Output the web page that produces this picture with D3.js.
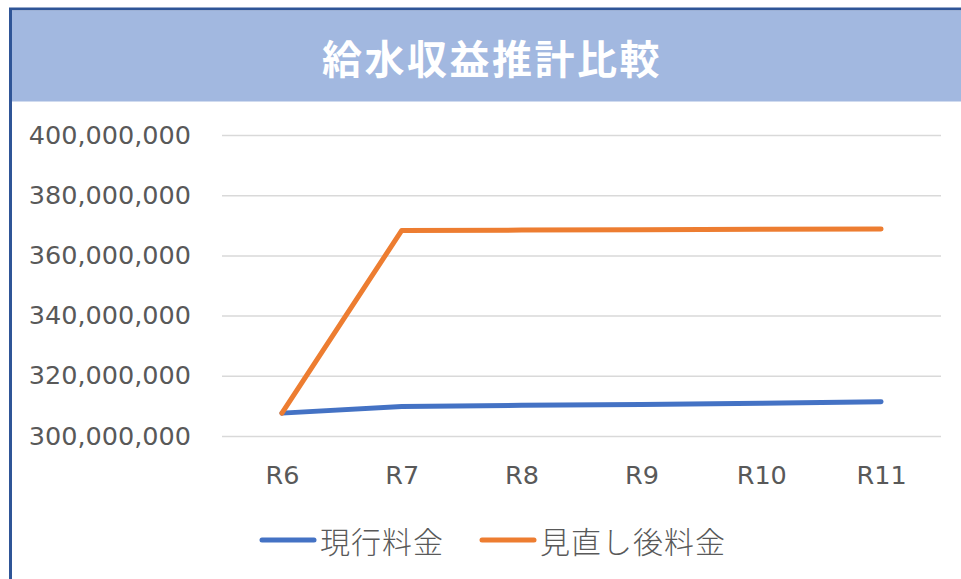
<!DOCTYPE html>
<html>
<head>
<meta charset="utf-8">
<script src="https://cdn.jsdelivr.net/npm/d3@7"></script>
<style>
	html, body { margin: 0; padding: 0; background: #fff; overflow: hidden; }
</style>
</head>
<body>
<script>
//////////////////////////////////////////////
// Data //////////////////////////////////////
//////////////////////////////////////////////
var title = "給水収益推計比較";
var categories = ["R6", "R7", "R8", "R9", "R10", "R11"];
var seriesNames = ["現行料金", "見直し後料金"];
var currentRate = [307600000, 309800000, 310200000, 310500000, 310900000, 311400000];
var revisedRate = [307600000, 368300000, 368400000, 368500000, 368700000, 368800000];
var yTicks = [300000000, 320000000, 340000000, 360000000, 380000000, 400000000];
var colors = ["#4472C4", "#ED7D31"];

var series = [
	{name: seriesNames[0], values: currentRate, color: colors[0]},
	{name: seriesNames[1], values: revisedRate, color: colors[1]}
];

//////////////////////////////////////////////
// Chart Config /////////////////////////////
//////////////////////////////////////////////
var width = 961, height = 579;
var plot = {left: 222, right: 941, top: 135, bottom: 436};

var xScale = d3.scalePoint().domain(categories).range([plot.left, plot.right]).padding(0.5);
var yScale = d3.scaleLinear().domain([300000000, 400000000]).range([plot.bottom, plot.top]);

var svg = d3.select("body").append("svg")
	.attr("width", width)
	.attr("height", height);

// frame + title band (chart area runs past the window on right / bottom)
svg.append("rect")
	.attr("x", 10.5).attr("y", 9)
	.attr("width", width + 20).attr("height", height + 20)
	.attr("fill", "#fff")
	.attr("stroke", "#2F5597")
	.attr("stroke-width", 3);

svg.append("rect")
	.attr("x", 12).attr("y", 10.5)
	.attr("width", width).attr("height", 91)
	.attr("fill", "#A2B8E0");

svg.append("text")
	.attr("x", 492).attr("y", 57)
	.attr("text-anchor", "middle")
	.attr("dominant-baseline", "central")
	.attr("fill", "#fff")
	.style("font-family", "'Noto Sans CJK JP', sans-serif")
	.style("font-weight", "bold")
	.style("font-size", "40px")
	.style("letter-spacing", "2.5px")
	.text(title);

//////////////////////////////////////////////
// Axes //////////////////////////////////////
//////////////////////////////////////////////
var yAxis = d3.axisLeft(yScale)
	.tickValues(yTicks)
	.tickSize(-(plot.right - plot.left))
	.tickPadding(31)
	.tickFormat(d3.format(","));

var yAxisEl = svg.append("g")
	.attr("transform", "translate(" + plot.left + ",0)")
	.call(yAxis);
yAxisEl.select(".domain").remove();
yAxisEl.selectAll(".tick line").attr("stroke", "#D9D9D9").attr("stroke-width", 1.5);
yAxisEl.selectAll(".tick text")
	.attr("fill", "#595959")
	.style("font-family", "'DejaVu Sans', sans-serif")
	.style("font-size", "25.5px");

var xAxis = d3.axisBottom(xScale).tickSize(0).tickPadding(30);
var xAxisEl = svg.append("g")
	.attr("transform", "translate(0," + plot.bottom + ")")
	.call(xAxis);
xAxisEl.select(".domain").remove();
xAxisEl.selectAll(".tick text")
	.attr("fill", "#595959")
	.style("font-family", "'DejaVu Sans', sans-serif")
	.style("font-size", "25.5px");

//////////////////////////////////////////////
// Lines /////////////////////////////////////
//////////////////////////////////////////////
var line = d3.line()
	.x(function(d, i) { return xScale(categories[i]); })
	.y(function(d) { return yScale(d); });

svg.selectAll(".series")
	.data(series)
	.enter().append("path")
	.attr("class", "series")
	.attr("d", function(d) { return line(d.values); })
	.attr("fill", "none")
	.attr("stroke", function(d) { return d.color; })
	.attr("stroke-width", 5)
	.attr("stroke-linecap", "round")
	.attr("stroke-linejoin", "round");

//////////////////////////////////////////////
// Legend ////////////////////////////////////
//////////////////////////////////////////////
var legendX = [262, 482];
var legend = svg.selectAll(".legend")
	.data(series)
	.enter().append("g")
	.attr("class", "legend")
	.attr("transform", function(d, i) { return "translate(" + legendX[i] + ",540)"; });

legend.append("line")
	.attr("x1", 0).attr("x2", 52)
	.attr("stroke", function(d) { return d.color; })
	.attr("stroke-width", 5)
	.attr("stroke-linecap", "round");

legend.append("text")
	.attr("x", 58)
	.attr("dominant-baseline", "central")
	.attr("fill", "#595959")
	.style("font-family", "'Noto Sans CJK JP', sans-serif")
	.style("font-weight", "300")
	.style("font-size", "30px")
	.style("letter-spacing", "1px")
	.text(function(d) { return d.name; });
</script>
</body>
</html>
